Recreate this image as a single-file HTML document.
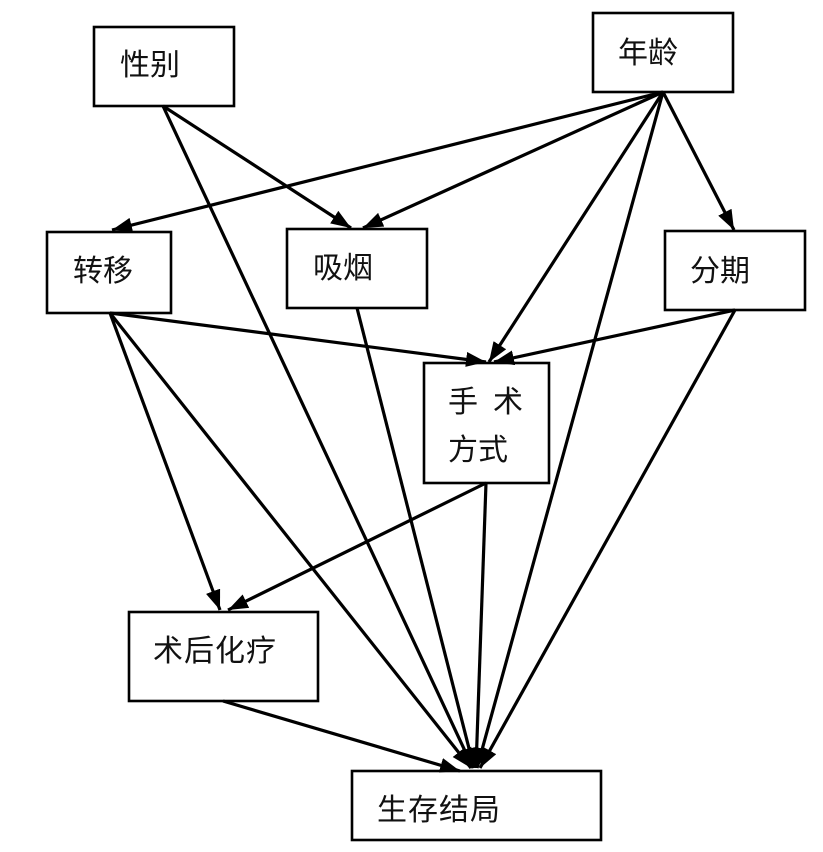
<!DOCTYPE html>
<html><head><meta charset="utf-8"><style>
html,body{margin:0;padding:0;background:#fff;}
svg{display:block;}
text{font-family:"Liberation Sans","Noto Sans CJK SC",sans-serif;font-size:30px;fill:#111;}
</style></head><body>
<svg width="823" height="852" viewBox="0 0 823 852" xmlns="http://www.w3.org/2000/svg">
<defs>
<marker id="a" markerUnits="userSpaceOnUse" markerWidth="22" markerHeight="16" refX="20" refY="7.5" orient="auto">
<path d="M0,0 L20,7.5 L0,15 z" fill="#000"/>
</marker>
</defs>
<g fill="#fff" stroke="#000" stroke-width="2.6">
<rect x="94" y="27" width="140" height="79"/>
<rect x="593" y="13" width="140" height="79"/>
<rect x="47" y="232" width="124" height="81"/>
<rect x="287" y="229" width="140" height="79"/>
<rect x="665" y="231" width="140" height="79"/>
<rect x="424" y="363" width="125" height="120"/>
<rect x="129" y="612" width="189" height="89"/>
<rect x="352" y="771" width="249" height="69"/>
</g>
<g stroke="#000" stroke-width="3.2" marker-end="url(#a)" fill="none">
<line x1="163" y1="106" x2="351" y2="228"/>
<line x1="163" y1="106" x2="473" y2="768"/>
<line x1="663" y1="92" x2="112" y2="230"/>
<line x1="663" y1="92" x2="363" y2="228"/>
<line x1="663" y1="92" x2="489" y2="362"/>
<line x1="663" y1="92" x2="734" y2="230"/>
<line x1="663" y1="92" x2="477" y2="768"/>
<line x1="110" y1="313" x2="486" y2="362"/>
<line x1="110" y1="313" x2="220" y2="610"/>
<line x1="110" y1="313" x2="471" y2="768"/>
<line x1="357" y1="308" x2="474" y2="768"/>
<line x1="735" y1="310" x2="494" y2="362"/>
<line x1="735" y1="310" x2="480" y2="768"/>
<line x1="486" y1="483" x2="228" y2="610"/>
<line x1="486" y1="483" x2="476" y2="768"/>
<line x1="223" y1="701" x2="460" y2="771"/>
</g>
<text x="120" y="75">性别</text>
<text x="618" y="63">年龄</text>
<text x="73" y="281">转移</text>
<text x="313" y="278">吸烟</text>
<text x="690" y="281">分期</text>
<text x="448" y="412">手</text>
<text x="493" y="412">术</text>
<text x="448" y="460">方式</text>
<text x="153" y="661" letter-spacing="1">术后化疗</text>
<text x="377" y="820" letter-spacing="1">生存结局</text>
</svg>
</body></html>
